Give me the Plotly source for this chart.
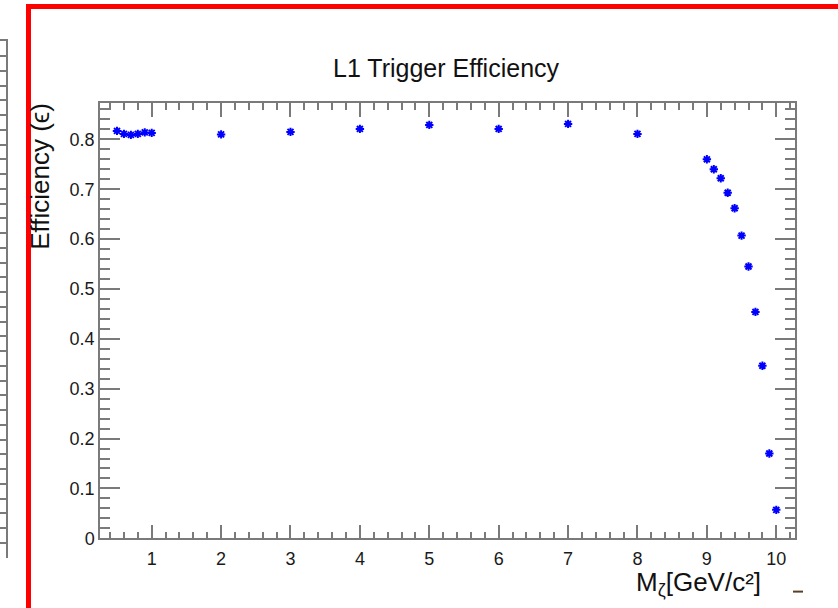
import plotly.graph_objects as go

# ---- data ----
mass = [0.5, 0.6, 0.7, 0.8, 0.9, 1.0, 2, 3, 4, 5, 6, 7, 8,
        9.0, 9.1, 9.2, 9.3, 9.4, 9.5, 9.6, 9.7, 9.8, 9.9, 10.0]
efficiency = [0.817, 0.811, 0.809, 0.811, 0.814, 0.813, 0.810, 0.815, 0.821, 0.829, 0.821, 0.831, 0.811,
              0.760, 0.740, 0.722, 0.693, 0.662, 0.607, 0.545, 0.454, 0.346, 0.170, 0.057]
x_ticks = [1, 2, 3, 4, 5, 6, 7, 8, 9, 10]
y_ticks = [0, 0.1, 0.2, 0.3, 0.4, 0.5, 0.6, 0.7, 0.8]

W, H = 838, 608
FONT = "Liberation Sans, Arial, Helvetica, sans-serif"
AXC = "#7a7a7a"

fig = go.Figure()
fig.add_trace(go.Scatter(
    x=mass, y=efficiency, mode="markers",
    marker=dict(symbol="asterisk-open", size=7, color="#0000ff",
                line=dict(color="#0000ff", width=2)),
    showlegend=False, hoverinfo="x+y"))

# invisible trace for the partial neighbouring panel on the left
fig.add_trace(go.Scatter(x=[0], y=[0], xaxis="x2", yaxis="y2", mode="markers",
                         marker=dict(opacity=0), showlegend=False, hoverinfo="skip"))

fig.update_layout(
    width=W, height=H, autosize=False,
    margin=dict(l=0, r=0, t=0, b=0),
    paper_bgcolor="white", plot_bgcolor="white",
    font=dict(family=FONT, color="#1a1a1a"),
    xaxis=dict(domain=[100 / W, 795 / W], range=[0.255, 10.27],
               tickmode="array", tickvals=x_ticks, ticktext=[str(v) for v in x_ticks],
               ticks="inside", ticklen=14, tickwidth=1.5, tickcolor=AXC,
               minor=dict(dtick=0.2, tick0=0, ticks="inside", ticklen=7, tickwidth=1.5, tickcolor=AXC),
               showline=True, linecolor=AXC, linewidth=1.5, mirror="ticks",
               showgrid=False, zeroline=False, ticklabelstandoff=3,
               tickfont=dict(size=18, family=FONT, color="#1a1a1a")),
    yaxis=dict(domain=[(H - 547.3) / H, (H - 105) / H], range=[0, 0.8724],
               tickmode="array", tickvals=y_ticks, ticktext=[("%g" % v) for v in y_ticks],
               ticks="inside", ticklen=20, tickwidth=1.5, tickcolor=AXC,
               minor=dict(dtick=0.02, tick0=0, ticks="inside", ticklen=10, tickwidth=1.5, tickcolor=AXC),
               showline=True, linecolor=AXC, linewidth=1.5, mirror="ticks",
               showgrid=False, zeroline=False,
               tickfont=dict(size=18, family=FONT, color="#1a1a1a")),
    xaxis2=dict(domain=[0, 6 / W], range=[0, 1], anchor="y2", side="top",
                showline=True, linecolor=AXC, linewidth=1.5,
                showticklabels=False, ticks="", showgrid=False, zeroline=False, fixedrange=True),
    yaxis2=dict(domain=[(H - 567) / H, (H - 42) / H], range=[0, 35], anchor="x2", side="right",
                dtick=1, tick0=0, ticks="inside", ticklen=6, tickwidth=1.5, tickcolor=AXC,
                showline=True, linecolor=AXC, linewidth=1.5,
                showticklabels=False, showgrid=False, zeroline=False, fixedrange=True),
)

# title
fig.add_annotation(text="L1 Trigger Efficiency", xref="paper", yref="paper",
                   x=446.5 / W, y=(H - 69) / H, xanchor="center", yanchor="middle",
                   showarrow=False, font=dict(size=25, family=FONT, color="#111111"))
# y title
fig.add_annotation(text="Efficiency (ϵ)", xref="paper", yref="paper",
                   x=40 / W, y=(H - 103) / H, xanchor="center", yanchor="top",
                   textangle=-90, showarrow=False, font=dict(size=26, family=FONT, color="#111111"))
# x title
fig.add_annotation(text="M<sub>ζ</sub>[GeV/c²]", xref="paper", yref="paper",
                   x=762 / W, y=(H - 575) / H, xanchor="right", yanchor="top",
                   showarrow=False, borderpad=0, font=dict(size=26, family=FONT, color="#111111"))

# red frame (left and top visible, continues past right/bottom)
fig.add_shape(type="rect", xref="paper", yref="paper",
              x0=28.5 / W, x1=1.05, y0=-0.05, y1=(H - 6.5) / H,
              line=dict(color="#ff0000", width=5), fillcolor="rgba(0,0,0,0)", layer="above")
# small dash at bottom right
fig.add_shape(type="line", xref="paper", yref="paper",
              x0=793 / W, x1=803 / W, y0=(H - 601.5) / H, y1=(H - 601.5) / H,
              line=dict(color="#5a4020", width=2))

fig.write_html("out.html", config={"displayModeBar": False},
               post_script="document.body.style.margin='0';document.body.style.padding='0';"
                           "document.body.style.overflow='hidden';")
